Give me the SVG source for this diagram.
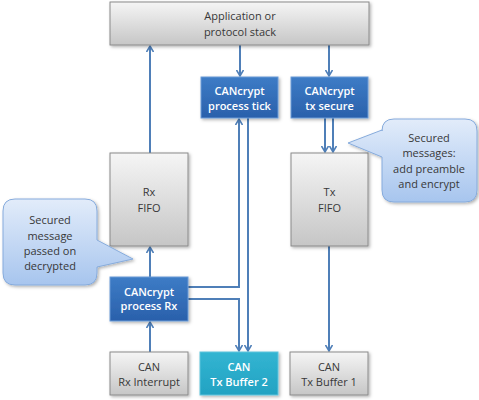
<svg xmlns="http://www.w3.org/2000/svg" width="479" height="400" viewBox="0 0 479 400">
<defs>
<linearGradient id="gGray" x1="0" y1="0" x2="0" y2="1"><stop offset="0" stop-color="#f5f5f5"/><stop offset="1" stop-color="#c6c6c6"/></linearGradient>
<linearGradient id="gBlue" x1="0" y1="0" x2="0" y2="1"><stop offset="0" stop-color="#3d7cc6"/><stop offset="1" stop-color="#2a60ab"/></linearGradient>
<linearGradient id="gTeal" x1="0" y1="0" x2="0" y2="1"><stop offset="0" stop-color="#33b5d2"/><stop offset="1" stop-color="#22a2c2"/></linearGradient>
<linearGradient id="gCall" x1="0" y1="0" x2="0" y2="1"><stop offset="0" stop-color="#e2ecfa"/><stop offset="1" stop-color="#a7c5ee"/></linearGradient>
<filter id="sh" x="-10%" y="-10%" width="130%" height="130%"><feDropShadow dx="1.5" dy="1.5" stdDeviation="1.5" flood-color="#000" flood-opacity="0.3"/></filter>
<marker id="ah" markerWidth="8" markerHeight="8" refX="6" refY="4" orient="auto" markerUnits="userSpaceOnUse"><path d="M0,0.5 L6,4 L0,7.5" fill="none" stroke="#4f7fb8" stroke-width="1.6"/></marker>
</defs>
<style>
.gray{fill:url(#gGray);stroke:#8a8a8a;stroke-width:1;filter:url(#sh)}
.blue{fill:url(#gBlue);stroke:#6a9ad6;stroke-width:1;filter:url(#sh)}
.teal{fill:url(#gTeal);stroke:#5cc3dc;stroke-width:1;filter:url(#sh)}
.call{fill:url(#gCall);stroke:#86abdc;stroke-width:1;filter:url(#sh)}
text{font-family:"Open Sans","Liberation Sans",sans-serif;font-size:11px;text-anchor:middle}
.dk{fill:#383838}
.wt{fill:#ffffff;font-weight:600}
.c{fill:none;stroke:#4f7fb8;stroke-width:2;marker-end:url(#ah)}
</style>
<g id="connectors">
<path class="c" d="M150,153 V46"/>
<path class="c" d="M240,45 V76"/>
<path class="c" d="M329,45 V76"/>
<path class="c" d="M325,118 V152"/>
<path class="c" d="M333,118 V152"/>
<path class="c" d="M329,246 V351"/>
<path class="c" d="M150,352 V322"/>
<path class="c" d="M150,277 V247"/>
<path class="c" d="M188,287 H239 V119"/>
<path class="c" d="M188,299 H239 V351"/>
<path class="c" d="M248,118 V351"/>
</g>
<g id="app"><rect class="gray" x="110" y="2" width="259" height="43"/><text class="dk" x="240" y="20">Application or</text><text class="dk" x="240" y="36">protocol stack</text></g>
<g id="tick"><rect class="blue" x="201" y="77" width="77" height="41"/><text class="wt" x="239.5" y="95">CANcrypt</text><text class="wt" x="239.5" y="110">process tick</text></g>
<g id="txsecure"><rect class="blue" x="291" y="77" width="77" height="41"/><text class="wt" x="329.5" y="95">CANcrypt</text><text class="wt" x="329.5" y="110">tx secure</text></g>
<g id="rxfifo"><rect class="gray" x="110" y="153" width="78" height="93"/><text class="dk" x="149" y="196">Rx</text><text class="dk" x="149" y="212">FIFO</text></g>
<g id="txfifo"><rect class="gray" x="291" y="153" width="77" height="93"/><text class="dk" x="329.5" y="196">Tx</text><text class="dk" x="329.5" y="212">FIFO</text></g>
<g id="procrx"><rect class="blue" x="110" y="277" width="78" height="44"/><text class="wt" x="149" y="296">CANcrypt</text><text class="wt" x="149" y="310">process Rx</text></g>
<g id="rxint"><rect class="gray" x="110" y="352" width="78" height="43"/><text class="dk" x="149" y="371">CAN</text><text class="dk" x="149" y="386">Rx Interrupt</text></g>
<g id="txbuf2"><rect class="teal" x="200" y="352" width="78" height="43"/><text class="wt" x="239" y="371">CAN</text><text class="wt" x="239" y="386">Tx Buffer 2</text></g>
<g id="txbuf1"><rect class="gray" x="290" y="352" width="78" height="43"/><text class="dk" x="329" y="371">CAN</text><text class="dk" x="329" y="386">Tx Buffer 1</text></g>
<g id="callout-left"><path class="call" d="M15,199 H85 Q97,199 97,211 V240 L133,259 L97,267 V273 Q97,285 85,285 H15 Q3,285 3,273 V211 Q3,199 15,199 Z"/><text class="dk" x="50" y="224">Secured</text><text class="dk" x="50" y="240">message</text><text class="dk" x="50" y="255">passed on</text><text class="dk" x="50" y="270">decrypted</text></g>
<g id="callout-right"><path class="call" d="M394,119 H465 Q477,119 477,131 V190 Q477,202 465,202 H394 Q382,202 382,190 V157 L348,143 L382,130 V131 Q382,119 394,119 Z"/><text class="dk" x="429" y="142">Secured</text><text class="dk" x="429" y="157">messages:</text><text class="dk" x="429" y="173">add preamble</text><text class="dk" x="429" y="188">and encrypt</text></g>
</svg>
